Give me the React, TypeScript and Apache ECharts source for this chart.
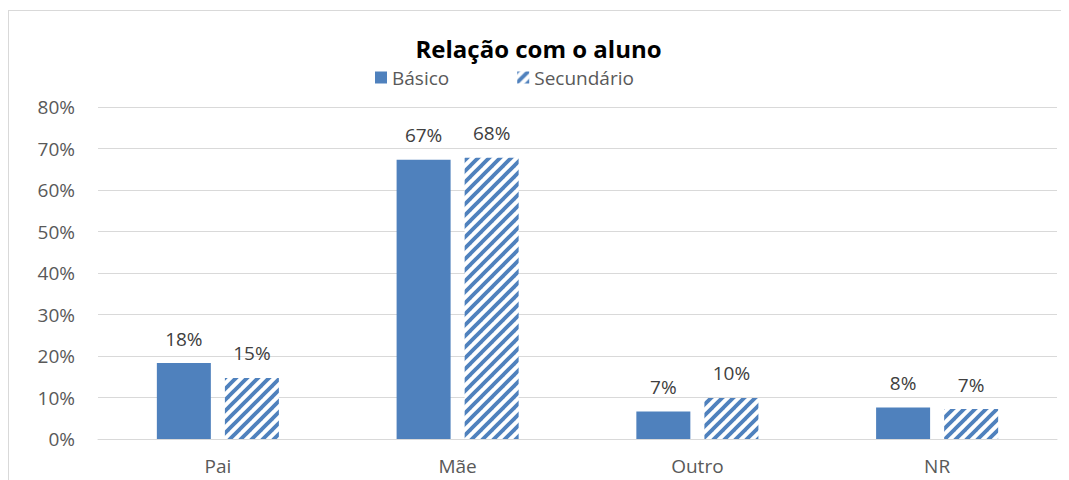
import React, { useEffect, useRef } from "react";
import * as echarts from "echarts";

const categories = ["Pai", "Mãe", "Outro", "NR"];
const basico = [18.3, 67.3, 6.6, 7.6];
const secundario = [14.7, 67.8, 9.9, 7.2];
const yTicks = [0, 10, 20, 30, 40, 50, 60, 70, 80];

const BLUE = "#4f81bd";
const FONT = "'Open Sans', sans-serif";

function makeHatch(): HTMLCanvasElement {
  const c = document.createElement("canvas");
  const s = 11;
  c.width = s;
  c.height = s;
  const ctx = c.getContext("2d")!;
  ctx.fillStyle = "#ffffff";
  ctx.fillRect(0, 0, s, s);
  ctx.strokeStyle = BLUE;
  ctx.lineWidth = 3.8;
  ctx.lineCap = "square";
  const seg = (x1: number, y1: number, x2: number, y2: number) => {
    ctx.beginPath();
    ctx.moveTo(x1, y1);
    ctx.lineTo(x2, y2);
    ctx.stroke();
  };
  seg(-2, s + 2, s + 2, -2);
  seg(-s / 2 - 2, s / 2 + 2, s / 2 + 2, -s / 2 - 2);
  seg(s / 2 - 2, s * 1.5 + 2, s * 1.5 + 2, s / 2 - 2);
  return c;
}

export default function App() {
  const ref = useRef<HTMLDivElement>(null);
  useEffect(() => {
    if (!ref.current) return;
    const chart = echarts.init(ref.current, undefined, { renderer: "svg" });
    const hatch = makeHatch();
    const labelCfg = {
      show: true,
      position: "top" as const,
      distance: 15,
      fontSize: 19,
      color: "#404040",
      fontFamily: FONT,
      formatter: (p: any) => Math.round(p.value) + "%",
    };
    chart.setOption({
      animation: false,
      backgroundColor: "#ffffff",
      title: {
        text: "Relação com o aluno",
        left: "center",
        top: 20,
        textStyle: { fontSize: 24, fontWeight: "bold", color: "#000000", fontFamily: FONT },
      },
      legend: {
        left: 361,
        top: 52,
        itemWidth: 12,
        itemHeight: 12,
        itemGap: 68,
        textStyle: { fontSize: 19, color: "#595959", fontFamily: FONT, padding: [0, 0, 0, 0] },
        data: [
          { name: "Básico", icon: "rect" },
          { name: "Secundário", icon: "rect" },
        ],
      },
      grid: { left: 89, right: 11, top: 96, bottom: 41 },
      xAxis: {
        type: "category",
        data: categories,
        axisTick: { show: false },
        axisLine: { lineStyle: { color: "#d9d9d9", width: 1 } },
        axisLabel: { fontSize: 19, color: "#595959", fontFamily: FONT, margin: 17 },
      },
      yAxis: {
        type: "value",
        min: 0,
        max: 80,
        interval: 10,
        axisLine: { show: false },
        axisTick: { show: false },
        splitLine: { lineStyle: { color: "#d9d9d9", width: 1 } },
        axisLabel: {
          fontSize: 19,
          color: "#595959",
          fontFamily: FONT,
          margin: 23,
          formatter: (v: number) => (yTicks.includes(v) ? v + "%" : ""),
        },
      },
      series: [
        {
          name: "Básico",
          type: "bar",
          data: basico,
          barWidth: 54,
          barGap: "26%",
          itemStyle: { color: BLUE },
          label: labelCfg,
        },
        {
          name: "Secundário",
          type: "bar",
          data: secundario,
          barWidth: 54,
          barGap: "26%",
          itemStyle: { color: { image: hatch, repeat: "repeat" } as any },
          label: labelCfg,
        },
      ],
    });
    return () => chart.dispose();
  }, []);
  return (
    <div
      ref={ref}
      style={{
        width: 1061,
        height: 470,
        marginTop: 2,
        boxSizing: "border-box",
        borderTop: "1px solid #d9d9d9",
        borderLeft: "1px solid #d9d9d9",
        borderRight: "1px solid #d9d9d9",
      }}
    />
  );
}
